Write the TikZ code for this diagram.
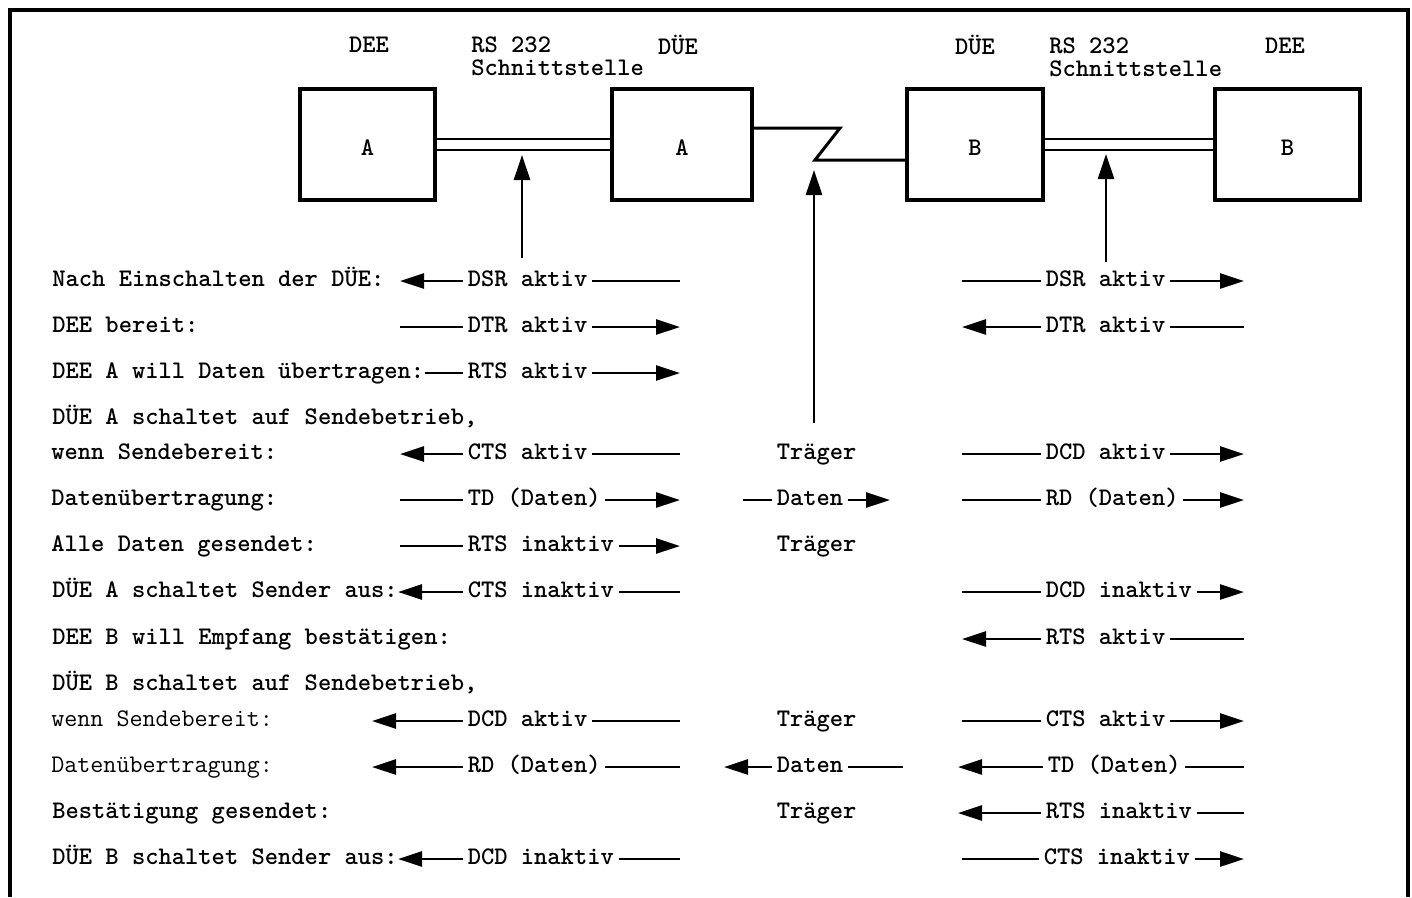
\documentclass[tikz,border=0pt]{standalone}
\usepackage{fontspec}
\usetikzlibrary{arrows.meta}

\newcommand{\typewr}{\ttfamily\fontsize{14.4pt}{13.1pt}\selectfont}

\tikzset{
  box/.style={draw, line width=2.2pt, minimum height=2.22cm, text height=1.3em, text depth=0pt, font=\typewr\bfseries},
  hdr/.style={inner sep=0pt, font=\typewr\bfseries},
  lbl/.style={anchor=west, inner sep=0pt, text height=0.6em, text depth=0pt, font=\typewr\bfseries},
  lbllight/.style={lbl, font=\typewr},
  sig/.style={anchor=west, inner xsep=2.5pt, inner ysep=0pt, text height=0.6em, text depth=0pt, font=\typewr\bfseries},
  wire/.style={line width=1.5pt},
  tip/.style={wire, -{Triangle[length=4.8mm,width=3mm]}},
  uparr/.style={line width=1.5pt, -{Triangle[length=5mm,width=3.2mm]}},
  dbl/.style={double, double distance=0.17cm, line width=1.3pt},
}

\begin{document}
\begin{tikzpicture}[x=0.02cm,y=-0.02cm]
\useasboundingbox (0,0) rectangle (1412,897);
\draw[line width=2.2pt] (10,897) -- (10,10) -- (1408,10) -- (1408,897);

% stations
\node[hdr] (hdeeA) at (369,45) {DEE};
\node[hdr, anchor=west, align=left] (hrsA) at (471,56) {RS 232\\Schnittstelle};
\node[hdr] (hdueA) at (678,45) {DÜE};
\node[hdr] (hdueB) at (975,45) {DÜE};
\node[hdr, anchor=west, align=left] (hrsB) at (1049,57) {RS 232\\Schnittstelle};
\node[hdr] (hdeeB) at (1285,46) {DEE};

\node[box, minimum width=2.7cm] (deeA) at (367.5,144.5) {A};
\node[box, minimum width=2.8cm] (dueA) at (682,144.5) {A};
\node[box, minimum width=2.72cm] (dueB) at (975,144.5) {B};
\node[box, minimum width=2.9cm] (deeB) at (1287.5,144.5) {B};

\draw[dbl] (deeA) -- (dueA);
\draw[dbl] (dueB) -- (deeB);
\coordinate (z1) at (840,128);
\coordinate (z2) at (815,160);
\draw[line width=1.7pt] (dueA.east |- z1) -- (z1) -- (z2) -- (z2 -| dueB.west);

\coordinate (ifAfoot) at (522,258);
\coordinate (ifAtip) at (522,155);
\coordinate (trgfoot) at (814,423);
\coordinate (trgtip) at (814,170);
\coordinate (ifBfoot) at (1106,262);
\coordinate (ifBtip) at (1106,154);
\draw[uparr] (ifAfoot) -- (ifAtip);
\draw[uparr] (trgfoot) -- (trgtip);
\draw[uparr] (ifBfoot) -- (ifBtip);

% columns for the line ends
\coordinate (cA) at (400,0);
\coordinate (cAw) at (372,0);
\coordinate (cB) at (680,0);
\coordinate (cM1) at (743,0);
\coordinate (cM1w) at (724,0);
\coordinate (cM2) at (890,0);
\coordinate (cM2w) at (903,0);
\coordinate (cC) at (962,0);
\coordinate (cCw) at (958,0);
\coordinate (cD) at (1244,0);

% row 1
\node[lbl] (l1) at (52,281) {Nach Einschalten der DÜE:};
\node[sig] (a1) at (463,281) {DSR aktiv};
\node[sig] (b1) at (1041,281) {DSR aktiv};
\draw[tip] (a1.west) -- (a1.west -| cA);
\draw[wire] (a1.east) -- (a1.east -| cB);
\draw[wire] (b1.west -| cC) -- (b1.west);
\draw[tip] (b1.east) -- (b1.east -| cD);

% row 2
\node[lbl] (l2) at (52,327) {DEE bereit:};
\node[sig] (a2) at (463,327) {DTR aktiv};
\node[sig] (b2) at (1041,327) {DTR aktiv};
\draw[wire] (a2.west -| cA) -- (a2.west);
\draw[tip] (a2.east) -- (a2.east -| cB);
\draw[tip] (b2.west) -- (b2.west -| cC);
\draw[wire] (b2.east) -- (b2.east -| cD);

% row 3
\node[lbl] (l3) at (52,373) {DEE A will Daten übertragen:};
\node[sig] (a3) at (463,373) {RTS aktiv};
\draw[wire] (l3.east) -- (a3.west);
\draw[tip] (a3.east) -- (a3.east -| cB);

% row 4 and 5
\node[lbl] (l4) at (52,419) {DÜE A schaltet auf Sendebetrieb,};
\node[lbl] (l5) at (51,454) {wenn Sendebereit:};
\node[sig] (a5) at (463,454) {CTS aktiv};
\node[sig] (t5) at (772,454) {Träger};
\node[sig] (b5) at (1041,454) {DCD aktiv};
\draw[tip] (a5.west) -- (a5.west -| cA);
\draw[wire] (a5.east) -- (a5.east -| cB);
\draw[wire] (b5.west -| cC) -- (b5.west);
\draw[tip] (b5.east) -- (b5.east -| cD);

% row 6
\node[lbl] (l6) at (51,500) {Datenübertragung:};
\node[sig] (a6) at (463,500) {TD (Daten)};
\node[sig] (m6) at (772,500) {Daten};
\node[sig] (b6) at (1041,500) {RD (Daten)};
\draw[wire] (a6.west -| cA) -- (a6.west);
\draw[tip] (a6.east) -- (a6.east -| cB);
\draw[wire] (m6.west -| cM1) -- (m6.west);
\draw[tip] (m6.east) -- (m6.east -| cM2);
\draw[wire] (b6.west -| cC) -- (b6.west);
\draw[tip] (b6.east) -- (b6.east -| cD);

% row 7
\node[lbl] (l7) at (51,546) {Alle Daten gesendet:};
\node[sig] (a7) at (463,546) {RTS inaktiv};
\node[sig] (t7) at (772,546) {Träger};
\draw[wire] (a7.west -| cA) -- (a7.west);
\draw[tip] (a7.east) -- (a7.east -| cB);

% row 8
\node[lbl] (l8) at (52,592) {DÜE A schaltet Sender aus:};
\node[sig] (a8) at (463,592) {CTS inaktiv};
\node[sig] (b8) at (1041,592) {DCD inaktiv};
\draw[tip] (a8.west) -- (l8.east);
\draw[wire] (a8.east) -- (a8.east -| cB);
\draw[wire] (b8.west -| cC) -- (b8.west);
\draw[tip] (b8.east) -- (b8.east -| cD);

% row 9
\node[lbl] (l9) at (52,639) {DEE B will Empfang bestätigen:};
\node[sig] (b9) at (1041,639) {RTS aktiv};
\draw[tip] (b9.west) -- (b9.west -| cC);
\draw[wire] (b9.east) -- (b9.east -| cD);

% row 10 and 11
\node[lbl] (l10) at (52,685) {DÜE B schaltet auf Sendebetrieb,};
\node[lbllight] (l11) at (51,721) {wenn Sendebereit:};
\node[sig] (a11) at (463,721) {DCD aktiv};
\node[sig] (t11) at (772,721) {Träger};
\node[sig] (b11) at (1041,721) {CTS aktiv};
\draw[tip] (a11.west) -- (a11.west -| cAw);
\draw[wire] (a11.east) -- (a11.east -| cB);
\draw[wire] (b11.west -| cC) -- (b11.west);
\draw[tip] (b11.east) -- (b11.east -| cD);

% row 12
\node[lbllight] (l12) at (51,767) {Datenübertragung:};
\node[sig] (a12) at (463,767) {RD (Daten)};
\node[sig] (m12) at (772,767) {Daten};
\node[sig] (b12) at (1043,767) {TD (Daten)};
\draw[tip] (a12.west) -- (a12.west -| cAw);
\draw[wire] (a12.east) -- (a12.east -| cB);
\draw[tip] (m12.west) -- (m12.west -| cM1w);
\draw[wire] (m12.east) -- (m12.east -| cM2w);
\draw[tip] (b12.west) -- (b12.west -| cCw);
\draw[wire] (b12.east) -- (b12.east -| cD);

% row 13
\node[lbl] (l13) at (52,813) {Bestätigung gesendet:};
\node[sig] (t13) at (772,813) {Träger};
\node[sig] (b13) at (1041,813) {RTS inaktiv};
\draw[tip] (b13.west) -- (b13.west -| cCw);
\draw[wire] (b13.east) -- (b13.east -| cD);

% row 14
\node[lbl] (l14) at (52,859) {DÜE B schaltet Sender aus:};
\node[sig] (a14) at (463,859) {DCD inaktiv};
\node[sig] (b14) at (1039,859) {CTS inaktiv};
\draw[tip] (a14.west) -- (l14.east);
\draw[wire] (a14.east) -- (a14.east -| cB);
\draw[wire] (b14.west -| cC) -- (b14.west);
\draw[tip] (b14.east) -- (b14.east -| cD);
\end{tikzpicture}
\end{document}
